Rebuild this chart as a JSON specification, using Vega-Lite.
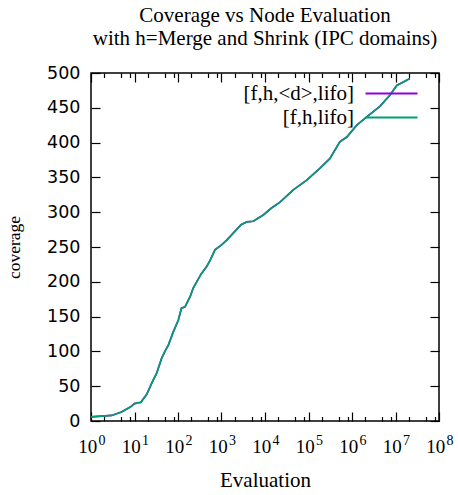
{
  "$schema": "https://vega.github.io/schema/vega-lite/v6.json",
  "width": 348,
  "height": 348,
  "autosize": {"type": "none"},
  "padding": {"left": 91, "top": 73, "right": 19, "bottom": 74},
  "background": "white",
  "title": {
    "text": ["Coverage vs Node Evaluation", "with h=Merge and Shrink (IPC domains)"],
    "font": "Liberation Serif",
    "fontSize": 21,
    "fontWeight": "normal",
    "color": "black",
    "anchor": "middle",
    "frame": "group",
    "baseline": "alphabetic",
    "lineHeight": 23.4,
    "offset": 27,
    "dy": 29
  },
  "data": {
    "values": [
      {"series": "[f,h,<d>,lifo]", "evals": 1, "coverage": 6},
      {"series": "[f,h,<d>,lifo]", "evals": 3, "coverage": 8},
      {"series": "[f,h,<d>,lifo]", "evals": 5, "coverage": 13},
      {"series": "[f,h,<d>,lifo]", "evals": 8, "coverage": 20},
      {"series": "[f,h,<d>,lifo]", "evals": 10, "coverage": 25},
      {"series": "[f,h,<d>,lifo]", "evals": 14, "coverage": 27},
      {"series": "[f,h,<d>,lifo]", "evals": 19, "coverage": 38},
      {"series": "[f,h,<d>,lifo]", "evals": 27, "coverage": 59},
      {"series": "[f,h,<d>,lifo]", "evals": 32, "coverage": 68},
      {"series": "[f,h,<d>,lifo]", "evals": 42, "coverage": 90},
      {"series": "[f,h,<d>,lifo]", "evals": 50, "coverage": 100},
      {"series": "[f,h,<d>,lifo]", "evals": 60, "coverage": 109},
      {"series": "[f,h,<d>,lifo]", "evals": 78, "coverage": 128},
      {"series": "[f,h,<d>,lifo]", "evals": 102, "coverage": 145},
      {"series": "[f,h,<d>,lifo]", "evals": 120, "coverage": 162},
      {"series": "[f,h,<d>,lifo]", "evals": 145, "coverage": 164},
      {"series": "[f,h,<d>,lifo]", "evals": 191, "coverage": 179},
      {"series": "[f,h,<d>,lifo]", "evals": 224, "coverage": 191},
      {"series": "[f,h,<d>,lifo]", "evals": 269, "coverage": 200},
      {"series": "[f,h,<d>,lifo]", "evals": 347, "coverage": 212},
      {"series": "[f,h,<d>,lifo]", "evals": 457, "coverage": 222},
      {"series": "[f,h,<d>,lifo]", "evals": 550, "coverage": 231},
      {"series": "[f,h,<d>,lifo]", "evals": 708, "coverage": 246},
      {"series": "[f,h,<d>,lifo]", "evals": 1000, "coverage": 253},
      {"series": "[f,h,<d>,lifo]", "evals": 1318, "coverage": 260},
      {"series": "[f,h,<d>,lifo]", "evals": 1862, "coverage": 270},
      {"series": "[f,h,<d>,lifo]", "evals": 2818, "coverage": 282},
      {"series": "[f,h,<d>,lifo]", "evals": 3802, "coverage": 286},
      {"series": "[f,h,<d>,lifo]", "evals": 5370, "coverage": 287},
      {"series": "[f,h,<d>,lifo]", "evals": 9120, "coverage": 296},
      {"series": "[f,h,<d>,lifo]", "evals": 14125, "coverage": 306},
      {"series": "[f,h,<d>,lifo]", "evals": 21878, "coverage": 314},
      {"series": "[f,h,<d>,lifo]", "evals": 44668, "coverage": 332},
      {"series": "[f,h,<d>,lifo]", "evals": 91201, "coverage": 346},
      {"series": "[f,h,<d>,lifo]", "evals": 181970, "coverage": 363},
      {"series": "[f,h,<d>,lifo]", "evals": 309030, "coverage": 377},
      {"series": "[f,h,<d>,lifo]", "evals": 524808, "coverage": 401},
      {"series": "[f,h,<d>,lifo]", "evals": 758578, "coverage": 408},
      {"series": "[f,h,<d>,lifo]", "evals": 1288250, "coverage": 425},
      {"series": "[f,h,<d>,lifo]", "evals": 2187762, "coverage": 437},
      {"series": "[f,h,<d>,lifo]", "evals": 4365158, "coverage": 452},
      {"series": "[f,h,<d>,lifo]", "evals": 7413102, "coverage": 468},
      {"series": "[f,h,<d>,lifo]", "evals": 10715193, "coverage": 482},
      {"series": "[f,h,<d>,lifo]", "evals": 15135612, "coverage": 487},
      {"series": "[f,h,<d>,lifo]", "evals": 21379621, "coverage": 492},
      {"series": "[f,h,lifo]", "evals": 1, "coverage": 6},
      {"series": "[f,h,lifo]", "evals": 3, "coverage": 8},
      {"series": "[f,h,lifo]", "evals": 5, "coverage": 13},
      {"series": "[f,h,lifo]", "evals": 8, "coverage": 20},
      {"series": "[f,h,lifo]", "evals": 10, "coverage": 25},
      {"series": "[f,h,lifo]", "evals": 14, "coverage": 27},
      {"series": "[f,h,lifo]", "evals": 19, "coverage": 38},
      {"series": "[f,h,lifo]", "evals": 27, "coverage": 59},
      {"series": "[f,h,lifo]", "evals": 32, "coverage": 68},
      {"series": "[f,h,lifo]", "evals": 42, "coverage": 90},
      {"series": "[f,h,lifo]", "evals": 50, "coverage": 100},
      {"series": "[f,h,lifo]", "evals": 60, "coverage": 109},
      {"series": "[f,h,lifo]", "evals": 78, "coverage": 128},
      {"series": "[f,h,lifo]", "evals": 102, "coverage": 145},
      {"series": "[f,h,lifo]", "evals": 120, "coverage": 162},
      {"series": "[f,h,lifo]", "evals": 145, "coverage": 164},
      {"series": "[f,h,lifo]", "evals": 191, "coverage": 179},
      {"series": "[f,h,lifo]", "evals": 224, "coverage": 191},
      {"series": "[f,h,lifo]", "evals": 269, "coverage": 200},
      {"series": "[f,h,lifo]", "evals": 347, "coverage": 212},
      {"series": "[f,h,lifo]", "evals": 457, "coverage": 222},
      {"series": "[f,h,lifo]", "evals": 550, "coverage": 231},
      {"series": "[f,h,lifo]", "evals": 708, "coverage": 246},
      {"series": "[f,h,lifo]", "evals": 1000, "coverage": 253},
      {"series": "[f,h,lifo]", "evals": 1318, "coverage": 260},
      {"series": "[f,h,lifo]", "evals": 1862, "coverage": 270},
      {"series": "[f,h,lifo]", "evals": 2818, "coverage": 282},
      {"series": "[f,h,lifo]", "evals": 3802, "coverage": 286},
      {"series": "[f,h,lifo]", "evals": 5370, "coverage": 287},
      {"series": "[f,h,lifo]", "evals": 9120, "coverage": 296},
      {"series": "[f,h,lifo]", "evals": 14125, "coverage": 306},
      {"series": "[f,h,lifo]", "evals": 21878, "coverage": 314},
      {"series": "[f,h,lifo]", "evals": 44668, "coverage": 332},
      {"series": "[f,h,lifo]", "evals": 91201, "coverage": 346},
      {"series": "[f,h,lifo]", "evals": 181970, "coverage": 363},
      {"series": "[f,h,lifo]", "evals": 309030, "coverage": 377},
      {"series": "[f,h,lifo]", "evals": 524808, "coverage": 401},
      {"series": "[f,h,lifo]", "evals": 758578, "coverage": 408},
      {"series": "[f,h,lifo]", "evals": 1288250, "coverage": 425},
      {"series": "[f,h,lifo]", "evals": 2187762, "coverage": 437},
      {"series": "[f,h,lifo]", "evals": 4365158, "coverage": 452},
      {"series": "[f,h,lifo]", "evals": 7413102, "coverage": 468},
      {"series": "[f,h,lifo]", "evals": 10715193, "coverage": 482},
      {"series": "[f,h,lifo]", "evals": 15135612, "coverage": 487},
      {"series": "[f,h,lifo]", "evals": 21379621, "coverage": 492}
    ]
  },
  "resolve": {"axis": {"x": "independent", "y": "independent"}},
  "layer": [
    {
      "mark": {"type": "line", "strokeWidth": 1.7, "interpolate": "linear"},
      "encoding": {
        "x": {
          "field": "evals", "type": "quantitative",
          "scale": {"type": "log", "domain": [1, 100000000], "nice": false},
          "axis": {
            "orient": "bottom",
            "values": [1, 10, 100, 1000, 10000, 100000, 1000000, 10000000, 100000000],
            "labelExpr": "'10'",
            "labelFont": "Liberation Serif", "labelFontSize": 19, "labelColor": "black",
            "labelPadding": 25, "labelOffset": -3.7, "labelFlush": false, "labelOverlap": false,
            "tickSize": -9,
            "title": "Evaluation", "titleFont": "Liberation Serif", "titleFontSize": 21,
            "titleFontWeight": "normal", "titleColor": "black", "titlePadding": 13
          }
        },
        "y": {
          "field": "coverage", "type": "quantitative",
          "scale": {"domain": [0, 500], "nice": false},
          "axis": {
            "orient": "left",
            "values": [0, 50, 100, 150, 200, 250, 300, 350, 400, 450, 500],
            "labelFont": "DejaVu Sans", "labelFontSize": 17.5, "labelColor": "black",
            "labelPadding": 20, "tickSize": -9,
            "title": "coverage", "titleFont": "Liberation Serif", "titleFontSize": 17.5,
            "titleFontWeight": "normal", "titleColor": "black", "titlePadding": 23
          }
        },
        "color": {
          "field": "series", "type": "nominal",
          "scale": {"domain": ["[f,h,<d>,lifo]", "[f,h,lifo]"], "range": ["#9400D3", "#009E73"]},
          "legend": {
            "title": null, "orient": "none", "legendX": 274, "legendY": 10,
            "direction": "vertical",
            "symbolType": "M-5.2,0H5.2", "symbolSize": 100, "symbolStrokeWidth": 2,
            "symbolOffset": 16,
            "labelAlign": "right", "labelOffset": -48,
            "labelFont": "Liberation Serif", "labelFontSize": 21, "labelColor": "black",
            "rowPadding": 2, "labelLimit": 300
          }
        }
      }
    },
    {
      "mark": {"type": "point", "opacity": 0, "size": 0},
      "encoding": {
        "x": {
          "field": "evals", "type": "quantitative",
          "axis": {
            "orient": "bottom", "ticks": false, "title": null,
            "values": [1, 10, 100, 1000, 10000, 100000, 1000000, 10000000, 100000000],
            "labelExpr": "format(round(log(datum.value)/LN10), 'd')",
            "labelFont": "Liberation Serif", "labelFontSize": 14, "labelColor": "black",
            "labelPadding": 12, "labelOffset": 10.5, "labelFlush": false, "labelOverlap": false
          }
        },
        "y": {"field": "coverage", "type": "quantitative", "axis": null}
      }
    },
    {
      "mark": {"type": "point", "opacity": 0, "size": 0},
      "encoding": {
        "x": {
          "field": "evals", "type": "quantitative",
          "axis": {
            "orient": "top", "labels": false, "title": null, "tickSize": -9,
            "values": [1, 10, 100, 1000, 10000, 100000, 1000000, 10000000, 100000000]
          }
        },
        "y": {
          "field": "coverage", "type": "quantitative",
          "axis": {
            "orient": "right", "labels": false, "title": null, "tickSize": -9,
            "values": [0, 50, 100, 150, 200, 250, 300, 350, 400, 450, 500]
          }
        }
      }
    },
    {
      "mark": {"type": "point", "opacity": 0, "size": 0},
      "encoding": {
        "x": {
          "field": "evals", "type": "quantitative",
          "axis": {
            "orient": "bottom", "labels": false, "title": null, "tickSize": -4.5,
            "values": [2, 5, 8, 20, 50, 80, 200, 500, 800, 2000, 5000, 8000, 20000, 50000, 80000, 200000, 500000, 800000, 2000000, 5000000, 8000000, 20000000, 50000000, 80000000]
          }
        },
        "y": {"field": "coverage", "type": "quantitative", "axis": null}
      }
    },
    {
      "mark": {"type": "point", "opacity": 0, "size": 0},
      "encoding": {
        "x": {
          "field": "evals", "type": "quantitative",
          "axis": {
            "orient": "top", "labels": false, "title": null, "tickSize": -4.5,
            "values": [2, 5, 8, 20, 50, 80, 200, 500, 800, 2000, 5000, 8000, 20000, 50000, 80000, 200000, 500000, 800000, 2000000, 5000000, 8000000, 20000000, 50000000, 80000000]
          }
        },
        "y": {"field": "coverage", "type": "quantitative", "axis": null}
      }
    }
  ],
  "config": {
    "view": {"stroke": "black", "strokeWidth": 1.5},
    "axis": {"grid": false, "domain": false, "tickColor": "black", "tickWidth": 1.2}
  }
}
